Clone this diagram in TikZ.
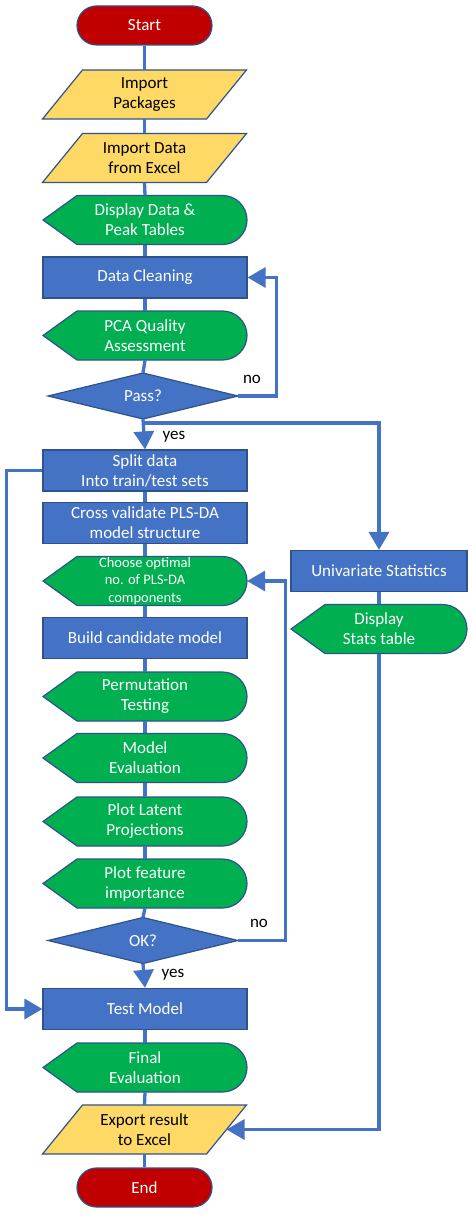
\documentclass[tikz,border=0pt]{standalone}
\usepackage{fontspec}
\setmainfont{Carlito}
\usetikzlibrary{shapes.misc,arrows.meta}
\definecolor{cblue}{HTML}{4472C4}
\definecolor{cedge}{HTML}{2F528F}
\definecolor{cgreen}{HTML}{00B050}
\definecolor{cyellow}{HTML}{FFD966}
\definecolor{cred}{HTML}{C00000}
\tikzset{
  lbl/.style={font=\fontsize{17}{20}\selectfont, align=center, inner sep=0pt},
  termnode/.style={lbl, rounded rectangle, draw=cedge, line width=1.2pt, fill=cred, text=white, minimum width=135pt, minimum height=39pt},
  procnode/.style={lbl, rectangle, draw=cedge, line width=1.2pt, fill=cblue, text=white, minimum width=204pt, minimum height=41pt},
  dispfill/.style={draw=cedge, line width=1.2pt, fill=cgreen},
  parafill/.style={draw=cedge, line width=1.2pt, fill=cyellow},
  decfill/.style={draw=cedge, line width=1.2pt, fill=cblue},
  ghost/.style={lbl, rectangle, draw=none, minimum height=49pt},
  conn/.style={draw=cblue, line width=3.3pt},
  arr/.style={conn, -{Triangle[width=20pt,length=18pt]}},
  note/.style={font=\fontsize{17}{20}\selectfont, text=black, inner sep=0pt}
}
% display shape: name, x, y, width, text, font
\newcommand\dispnode[6]{%
  \path[dispfill] (#2-#4/2,#3) -- (#2-#4/2+34,#3-24.5) -- (#2+#4/2-24.5,#3-24.5)
    arc[start angle=90,end angle=-90,radius=24.5pt] -- (#2-#4/2+34,#3+24.5) -- cycle;
  \node[ghost, text=white, minimum width=#4pt, font=#6] (#1) at (#2,#3) {#5};}
% parallelogram: name, x, y, text
\newcommand\paranode[4]{%
  \path[parafill] (#2-102,#3+24.5) -- (#2-62,#3-24.5) -- (#2+102,#3-24.5) -- (#2+62,#3+24.5) -- cycle;
  \node[ghost, text=black, minimum width=204pt] (#1) at (#2,#3) {#4};
  \coordinate (#1r) at (#2+82,#3);}
% decision: name, x, y, text
\newcommand\decnode[4]{%
  \path[decfill] (#2-95,#3) -- (#2,#3-23) -- (#2+95,#3) -- (#2,#3+23) -- cycle;
  \node[lbl, text=white, minimum width=190pt, minimum height=46pt] (#1) at (#2,#3) {#4};}
\begin{document}
\begin{tikzpicture}[x=1pt,y=-1pt]
\useasboundingbox[fill=white] (0,0) rectangle (471,1230);
\def\fs{\fontsize{17}{20}\selectfont}
\def\fsm{\fontsize{14.5}{17.5}\selectfont}
\node[termnode] (start) at (144.5,25.5) {Start};
\paranode{pkg}{144.5}{94.5}{Import\\Packages}
\paranode{data}{144.5}{158}{Import Data\\from Excel}
\dispnode{disp}{145}{220}{204}{Display Data \&\\Peak Tables}{\fs}
\node[procnode] (clean) at (145,277.5) {Data Cleaning};
\dispnode{pca}{145}{335.5}{204}{PCA Quality\\Assessment}{\fs}
\decnode{pass}{143}{396}{Pass?}
\node[procnode] (split) at (145,470.5) {Split data\\Into train/test sets};
\node[procnode] (cross) at (145,523) {Cross validate PLS-DA\\model structure};
\dispnode{choose}{145}{581}{204}{Choose optimal\\no. of PLS-DA\\components}{\fsm}
\node[procnode] (build) at (145,638) {Build candidate model};
\dispnode{perm}{145}{696.5}{204}{Permutation\\Testing}{\fs}
\dispnode{meval}{145}{758}{204}{Model\\Evaluation}{\fs}
\dispnode{latent}{145}{821.5}{204}{Plot Latent\\Projections}{\fs}
\dispnode{feat}{145}{883.5}{204}{Plot feature\\importance}{\fs}
\decnode{ok}{143}{940.5}{OK?}
\node[procnode] (test) at (145,1009) {Test Model};
\dispnode{final}{145}{1067.5}{204}{Final\\Evaluation}{\fs}
\paranode{export}{144.5}{1129.5}{Export result\\to Excel}
\node[termnode] (end) at (144.5,1187.5) {End};
\node[procnode, minimum width=176pt] (univ) at (379,571) {Univariate Statistics};
\dispnode{dstats}{379}{629}{176}{Display\\Stats table}{\fs}
% spine
\draw[conn] (start.south) -- (pkg.north);
\draw[conn] (pkg.south) -- (data.north);
\draw[conn] (data.south) -- (disp.north);
\draw[conn] (disp.south) -- (clean.north);
\draw[conn] (clean.south) -- (pca.north);
\draw[conn] (pca.south) -- (pass.north);
\draw[arr] (pass.south) -- (split.north);
\draw[conn] (split.south) -- (cross.north);
\draw[conn] (cross.south) -- (choose.north);
\draw[conn] (choose.south) -- (build.north);
\draw[conn] (build.south) -- (perm.north);
\draw[conn] (perm.south) -- (meval.north);
\draw[conn] (meval.south) -- (latent.north);
\draw[conn] (latent.south) -- (feat.north);
\draw[conn] (feat.south) -- (ok.north);
\draw[arr] (ok.south) -- (test.north);
\draw[conn] (test.south) -- (final.north);
\draw[conn] (final.south) -- (export.north);
\draw[conn] (export.south) -- (end.north);
% loops
\coordinate (br) at (143,423);
\draw[arr] (br) -| (univ.north);
\draw[arr] (pass.east) -- ++(38,0) |- (clean.east);
\draw[arr] (split.west) -- ++(-36,0) |- (test.west);
\draw[arr] (ok.east) -- ++(47,0) |- (choose.east);
\draw[conn] (univ.south) -- (dstats.north);
\draw[arr] (dstats.south) |- (exportr);
% labels
\node[note] (no1) at (252,379) {no};
\node[note] (yes1) at (174,437) {yes};
\node[note] (no2) at (259,923) {no};
\node[note] (yes2) at (173,975) {yes};
\end{tikzpicture}
\end{document}
